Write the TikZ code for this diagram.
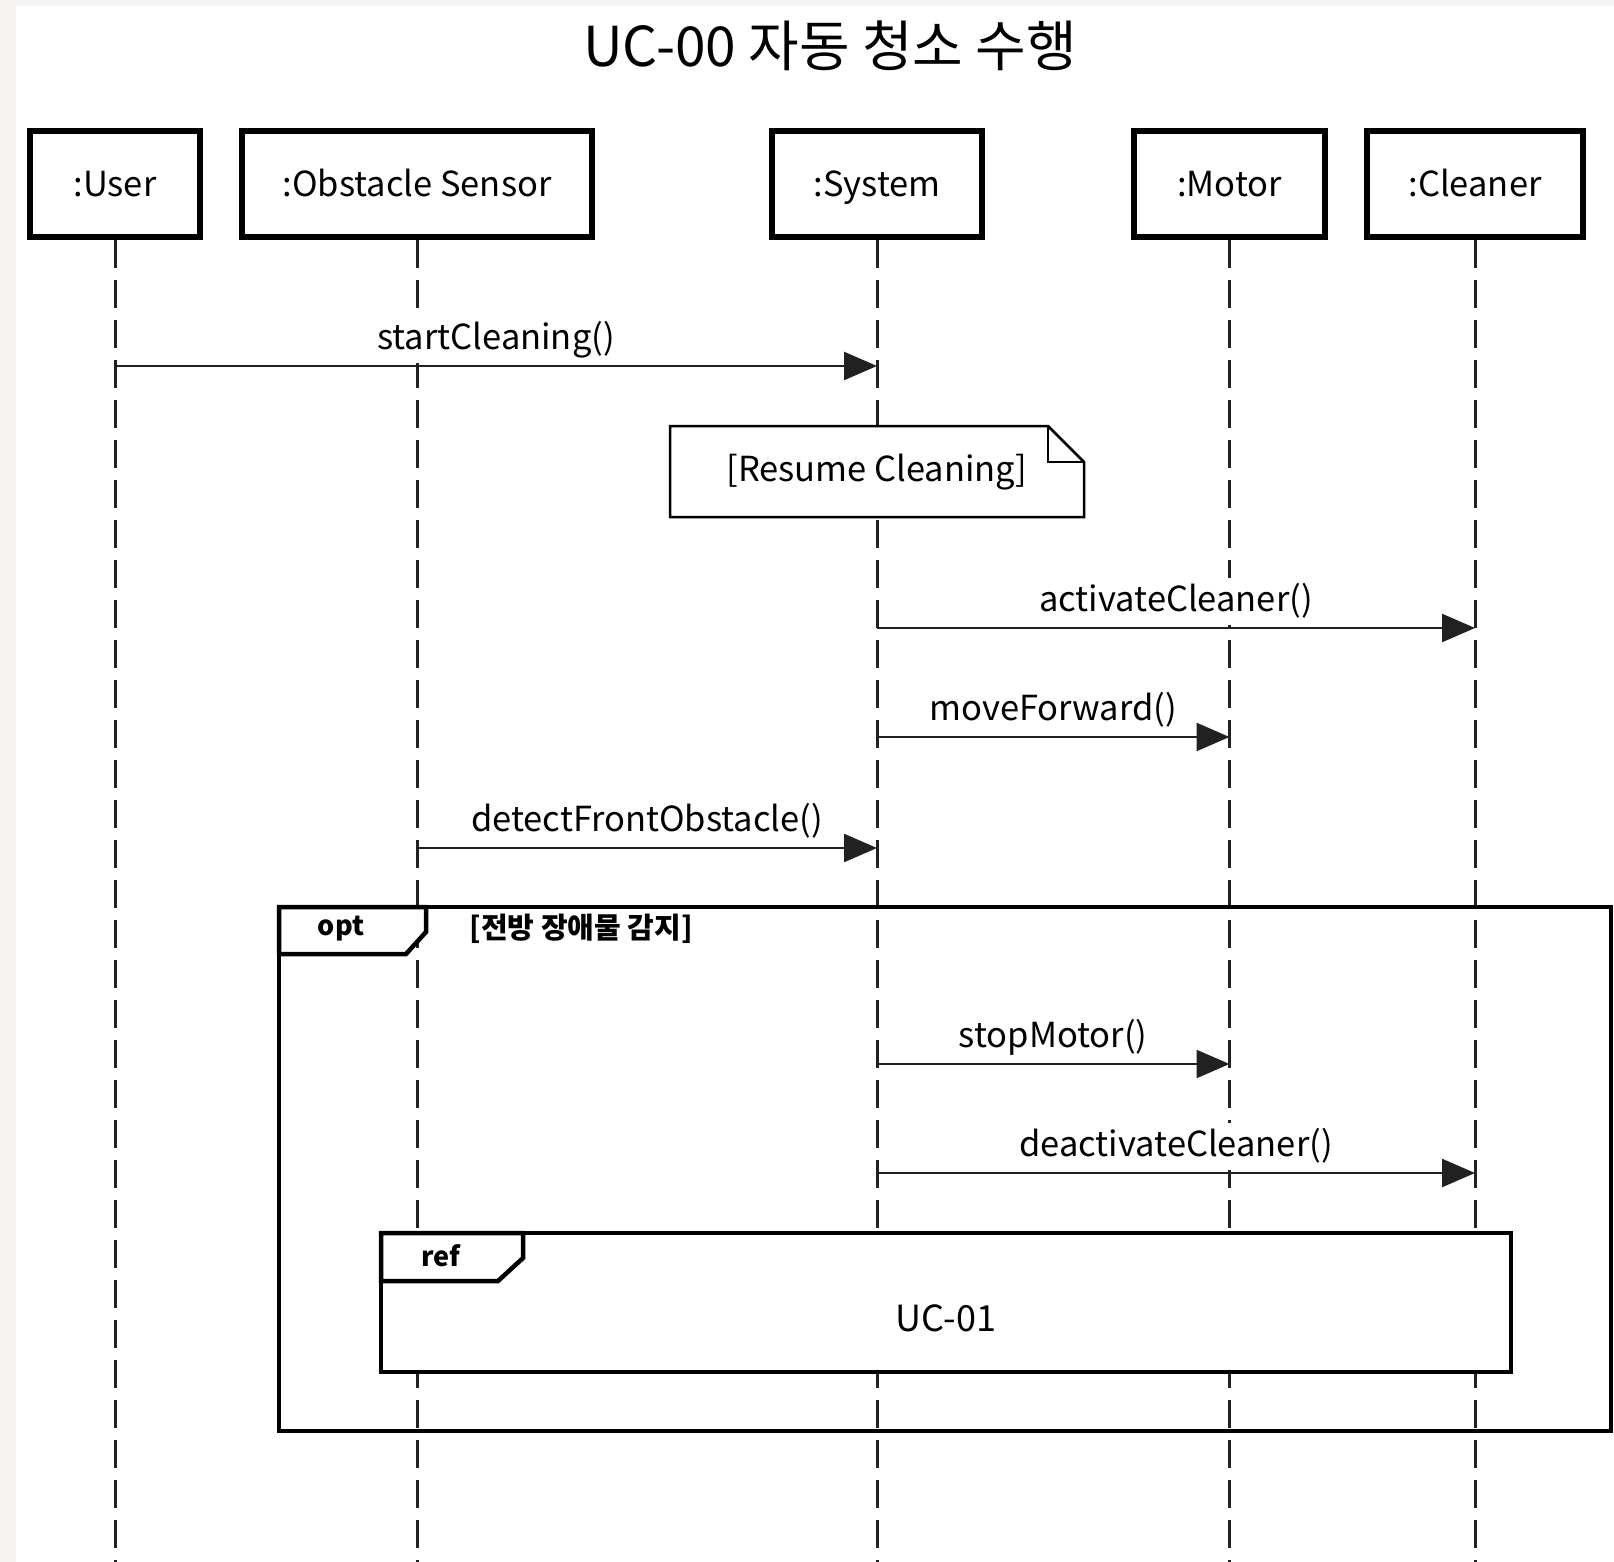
\documentclass[tikz,border=0pt]{standalone}
\usepackage{fontspec}
\setmainfont{Noto Sans CJK KR}
\usetikzlibrary{arrows.meta}
\definecolor{pagegray}{rgb}{0.957,0.953,0.945}
\definecolor{lineblack}{rgb}{0.13,0.13,0.13}

\tikzset{
  obj/.style={draw, line width=6pt, fill=white, minimum height=106pt, inner sep=0pt, text height=30pt, text depth=5pt, font=\fontsize{34.5}{40}\selectfont},
  lifeline/.style={draw=lineblack, line width=3pt, dash pattern=on 28pt off 12pt},
  msg/.style={draw=lineblack, line width=2.5pt, -{Triangle[length=33pt,width=28pt]}},
  msglabel/.style={above, fill=white, inner xsep=2pt, inner ysep=0pt, text height=34pt, text depth=13.5pt, yshift=1.5pt, font=\fontsize{34.5}{40}\selectfont},
  frame/.style={line width=4.5pt},
  tablabel/.style={font=\fontsize{27}{32}\selectfont\bfseries},
}

\begin{document}
\begin{tikzpicture}[x=1pt,y=-1pt]
\useasboundingbox (0,0) rectangle (1614,1562);
\fill[pagegray] (0,0) rectangle (1614,1562);
\fill[white] (16,6) rectangle (1614,1562);

% title
\node[font=\fontsize{55}{62}\selectfont] (title) at (830,46) {UC-00 자동 청소 수행};

% objects
\node[obj, minimum width=170pt] (user) at (115,184) {:User};
\node[obj, minimum width=350pt] (sensor) at (417,184) {:Obstacle Sensor};
\node[obj, minimum width=210pt] (system) at (877,184) {:System};
\node[obj, minimum width=191pt] (motor) at (1229.5,184) {:Motor};
\node[obj, minimum width=216pt] (cleaner) at (1475,184) {:Cleaner};

% lifelines
\coordinate (bottom) at (0,1562);
\foreach \obj in {user,sensor,system,motor,cleaner}
  \draw[lifeline] (\obj.south) -- (\obj.south |- bottom);

% note
\draw[line width=2.5pt, fill=white] (670,426) -- (1048,426) -- (1084,462) -- (1084,517) -- (670,517) -- cycle;
\draw[line width=2.5pt] (1048,426) -- (1048,462) -- (1084,462);
\node[font=\fontsize{34.5}{40}\selectfont] (resume) at (877,472) {[Resume Cleaning]};

% opt fragment
\draw[frame] (279,907) rectangle (1611,1431);
\draw[frame, fill=white] (279,907) -- (426,907) -- (426,932) -- (406,954) -- (279,954) -- cycle;
\node[tablabel] (opt) at (341,929) {opt};
\node[tablabel, font=\fontsize{29}{34}\selectfont\bfseries, anchor=west] (guard) at (466,929) {[전방 장애물 감지]};

% ref fragment
\draw[frame, fill=white] (381,1233) rectangle (1511,1372);
\draw[frame, fill=white] (381,1233) -- (523,1233) -- (523,1258) -- (498,1281) -- (381,1281) -- cycle;
\node[tablabel] (ref) at (441,1256) {ref};
\node[font=\fontsize{36}{42}\selectfont] (uc01) at (946,1318) {UC-01};

% messages
\coordinate (m1) at (0,366);
\coordinate (m2) at (0,628);
\coordinate (m3) at (0,737);
\coordinate (m4) at (0,848);
\coordinate (m5) at (0,1064);
\coordinate (m6) at (0,1173);
\draw[msg] (user |- m1) -- node[msglabel] {startCleaning()} (system |- m1);
\draw[msg] (system |- m2) -- node[msglabel] {activateCleaner()} (cleaner |- m2);
\draw[msg] (system |- m3) -- node[msglabel] {moveForward()} (motor |- m3);
\draw[msg] (sensor |- m4) -- node[msglabel] {detectFrontObstacle()} (system |- m4);
\draw[msg] (system |- m5) -- node[msglabel] {stopMotor()} (motor |- m5);
\draw[msg] (system |- m6) -- node[msglabel] {deactivateCleaner()} (cleaner |- m6);
\end{tikzpicture}
\end{document}
